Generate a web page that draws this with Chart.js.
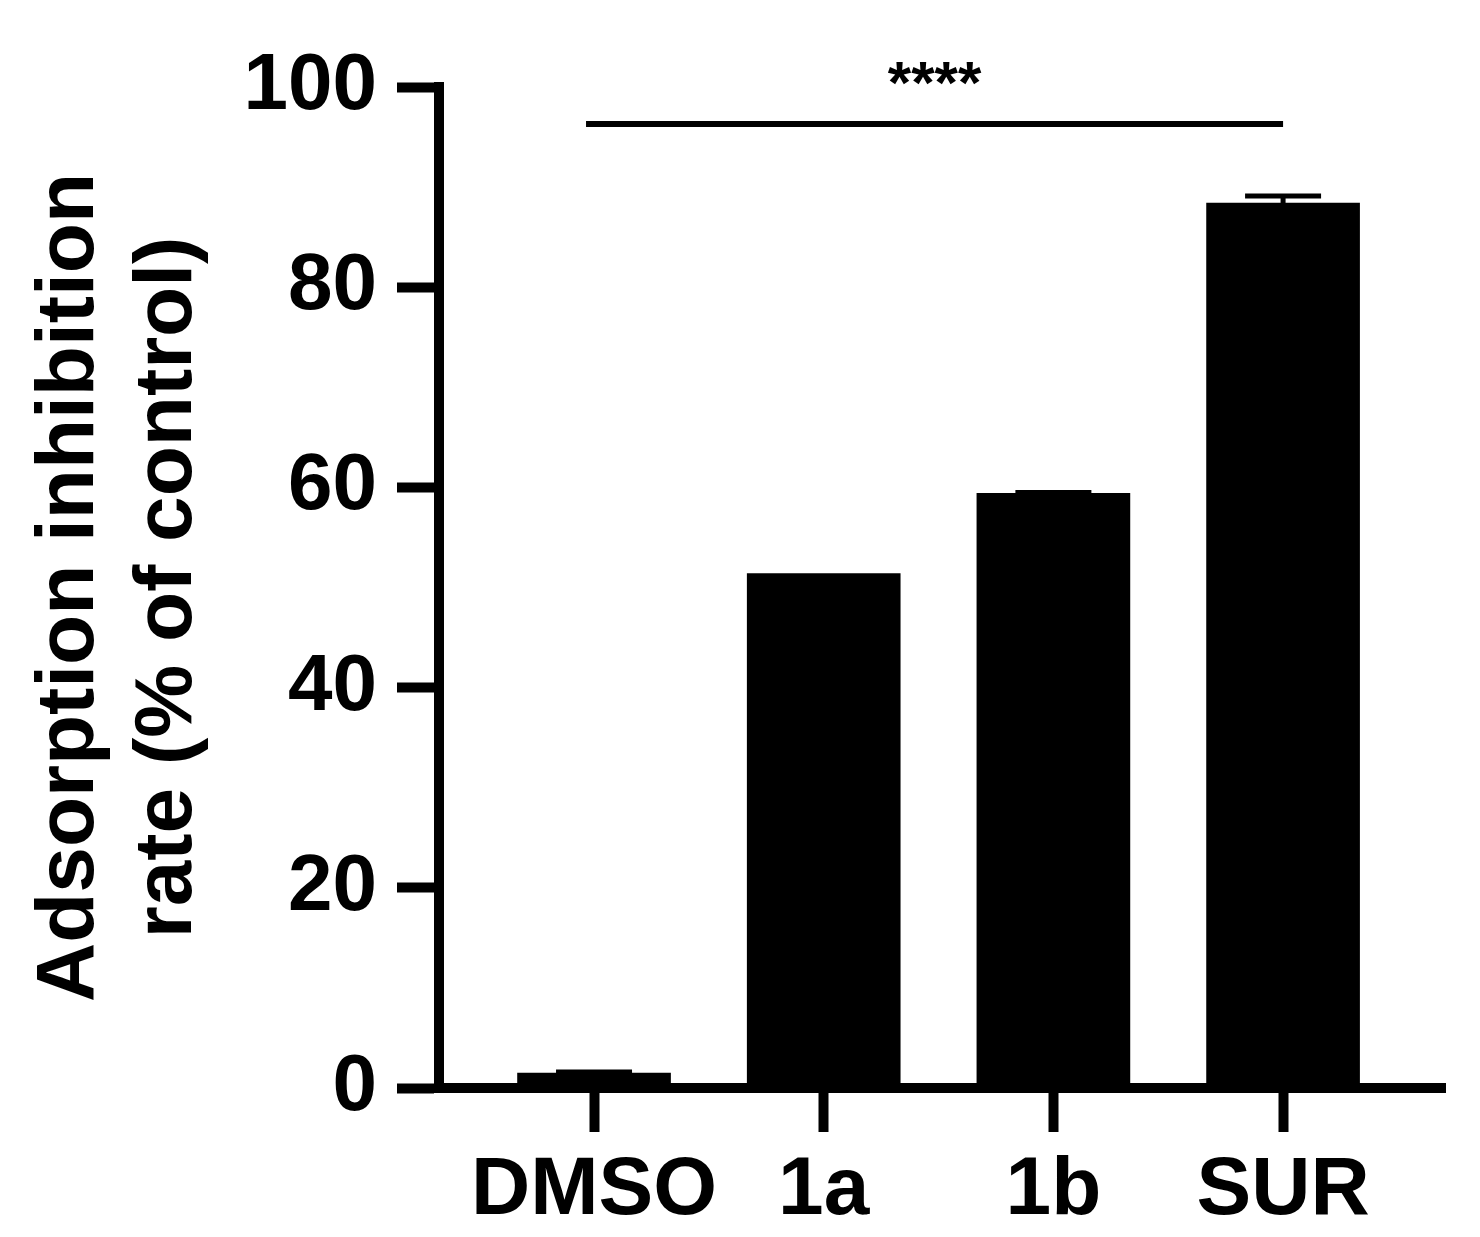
<!DOCTYPE html>
<html>
<head>
<meta charset="utf-8">
<script src="https://cdn.jsdelivr.net/npm/chart.js@4"></script>
<style>
  body { margin: 0; background: #fff; }
  #wrap { width: 1480px; height: 1237px; position: relative; }
</style>
</head>
<body>
<div id="wrap"><canvas id="chart"></canvas></div>
<script>
const categories = ['DMSO', '1a', '1b', 'SUR'];
const inhibition = [1.5, 51.4, 59.4, 88.4];
const errorUp = [0.1, 0, 0.1, 0.7];
const yTicks = [0, 20, 40, 60, 80, 100];
const sigFrom = 0, sigTo = 3, sigLevel = 96.3, sigLabel = '****';

const FONT = 'Arial, "Liberation Sans", sans-serif';

// draws the upward error bars and the significance line
const extras = {
    id: 'extras',
    afterDatasetsDraw(chart) {
        const ctx = chart.ctx;
        const x = chart.scales.x, y = chart.scales.y;
        ctx.save();
        ctx.strokeStyle = '#000';
        ctx.lineWidth = 5;
        inhibition.forEach((v, i) => {
            if (!errorUp[i]) return;
            const px = x.getPixelForValue(i);
            const top = y.getPixelForValue(v + errorUp[i]);
            ctx.beginPath();
            ctx.moveTo(px, y.getPixelForValue(v));
            ctx.lineTo(px, top);
            ctx.moveTo(px - 38, top);
            ctx.lineTo(px + 38, top);
            ctx.stroke();
        });
        const ly = y.getPixelForValue(sigLevel);
        const x1 = x.getPixelForValue(sigFrom), x2 = x.getPixelForValue(sigTo);
        ctx.lineWidth = 6;
        ctx.beginPath();
        ctx.moveTo(x1 - 8, ly);
        ctx.lineTo(x2, ly);
        ctx.stroke();
        ctx.fillStyle = '#000';
        ctx.font = 'bold 60px ' + FONT;
        ctx.textAlign = 'center';
        ctx.textBaseline = 'middle';
        ctx.fillText(sigLabel, (x1 + x2) / 2 - 4, ly - 38);
        ctx.restore();
    }
};

new Chart(document.getElementById('chart'), {
    type: 'bar',
    data: {
        labels: categories,
        datasets: [{
            data: categories.map((c, i) => ({ x: i, y: inhibition[i] })),
            backgroundColor: '#000',
            borderWidth: 0,
            barThickness: 153
        }]
    },
    options: {
        responsive: true,
        maintainAspectRatio: false,
        animation: false,
        layout: { padding: { top: 87, right: 35, left: 0, bottom: 0 } },
        plugins: { legend: { display: false }, tooltip: { enabled: false } },
        scales: {
            x: {
                type: 'linear',
                offset: false,
                min: -0.675,
                max: 3.705,
                afterBuildTicks: s => { s.ticks = categories.map((c, i) => ({ value: i })); },
                afterFit: s => { s.height = 149; },
                ticks: {
                    callback: v => categories[v],
                    color: '#000',
                    padding: 10,
                    maxRotation: 0,
                    autoSkip: false,
                    font: { family: FONT, size: 82, weight: 'bold' }
                },
                grid: { offset: false, drawOnChartArea: false, tickLength: 44, tickWidth: 10, tickColor: '#000' },
                border: { display: true, width: 10, color: '#000' }
            },
            y: {
                min: 0,
                max: 100,
                afterBuildTicks: s => { s.ticks = yTicks.map(v => ({ value: v })); },
                afterFit: s => { s.width = 439; },
                ticks: {
                    color: '#000',
                    padding: 20,
                    font: { family: FONT, size: 80, weight: 'bold' }
                },
                grid: { drawOnChartArea: false, tickLength: 42, tickWidth: 10, tickColor: '#000' },
                border: { display: true, width: 10, color: '#000' },
                title: {
                    display: true,
                    text: ['Adsorption inhibition', 'rate (% of control)'],
                    color: '#000',
                    padding: { top: 21, bottom: 0 },
                    font: { family: FONT, size: 82, weight: 'bold', lineHeight: 1.2 }
                }
            }
        }
    },
    plugins: [extras]
});
</script>
</body>
</html>
